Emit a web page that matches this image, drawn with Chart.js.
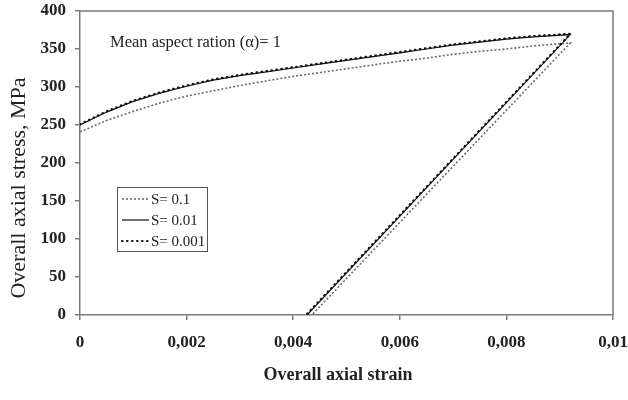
<!DOCTYPE html>
<html><head><meta charset="utf-8">
<script src="https://cdn.jsdelivr.net/npm/chart.js@4/dist/chart.umd.min.js"></script>
<style>html,body{margin:0;padding:0;background:#fff}#wrap{width:628px;height:400px;position:relative}</style>
</head><body><div id="wrap"><canvas id="c" width="628" height="400"></canvas></div>
<script>
// ---- data ----
const seriesNames = ['S= 0.1', 'S= 0.01', 'S= 0.001'];
const strainLoad = [0, 0.0005, 0.001, 0.0015, 0.002, 0.0025, 0.003, 0.0035, 0.004, 0.0045, 0.005, 0.0055, 0.006, 0.0065, 0.007, 0.0075, 0.008, 0.0085, 0.0092];
const stressS01   = [241, 256, 268, 279, 288, 295, 302, 308, 314, 319, 324, 329, 334, 338, 343, 347, 350, 354, 358];
const stressS001  = [250, 267, 281, 292, 301, 309, 315, 320, 325, 330, 335, 340, 345, 350, 355, 359, 363, 366, 369];
const stressS0001 = [251, 268, 282, 293, 302, 310, 316, 321, 326, 331, 336, 341, 346, 351, 356, 360, 364, 367, 370];
const unloadEndStrain = [0.00435, 0.00426, 0.00424];   // strain at zero stress after unloading
const xTickLabels = ['0', '0,002', '0,004', '0,006', '0,008', '0,01'];
const yTickLabels = ['0', '50', '100', '150', '200', '250', '300', '350', '400'];
const xTitle = 'Overall axial strain';
const yTitle = 'Overall axial stress, MPa';
const noteText = 'Mean aspect ration (\u03b1)= 1';

function buildSeries(stress, endStrain) {
  const pts = strainLoad.map((x, i) => ({x: x, y: stress[i]}));
  pts.push({x: endStrain, y: 0});
  return pts;
}

const SERIF = '"Liberation Serif", "DejaVu Serif", serif';
const AXIS = '#7a7a7a';

const decorPlugin = {
  id: 'decor',
  afterDraw(chart) {
    const ctx = chart.ctx, a = chart.chartArea;
    ctx.save();
    // frame top & right
    ctx.strokeStyle = AXIS; ctx.lineWidth = 1.5;
    ctx.beginPath();
    ctx.moveTo(a.left, a.top); ctx.lineTo(a.right, a.top); ctx.lineTo(a.right, a.bottom);
    ctx.stroke();
    // note
    ctx.fillStyle = '#222';
    ctx.font = '16.5px ' + SERIF;
    ctx.textAlign = 'left'; ctx.textBaseline = 'alphabetic';
    ctx.fillText(noteText, 110, 47);
    // x title
    ctx.font = 'bold 18px ' + SERIF;
    ctx.textAlign = 'center'; ctx.textBaseline = 'middle';
    ctx.fillText(xTitle, 338, 375);
    // y title
    ctx.save();
    ctx.translate(19, 188);
    ctx.rotate(-Math.PI / 2);
    ctx.font = '22px ' + SERIF;
    ctx.fillText(yTitle, 0, 0);
    ctx.restore();
    // legend box
    const bx = 117, by = 187, bw = 90, bh = 64;
    ctx.fillStyle = '#fff';
    ctx.fillRect(bx, by, bw, bh);
    ctx.strokeStyle = '#555'; ctx.lineWidth = 1;
    ctx.strokeRect(bx + 0.5, by + 0.5, bw, bh);
    chart.data.datasets.forEach((ds, i) => {
      const y = by + 12 + i * 21;
      ctx.save();
      ctx.strokeStyle = ds.borderColor; ctx.lineWidth = ds.borderWidth;
      ctx.lineCap = ds.borderCapStyle || 'butt';
      ctx.setLineDash(ds.borderDash || []);
      ctx.beginPath(); ctx.moveTo(122, y); ctx.lineTo(149, y); ctx.stroke();
      ctx.restore();
      ctx.fillStyle = '#222';
      ctx.font = '15px ' + SERIF;
      ctx.textAlign = 'left'; ctx.textBaseline = 'middle';
      ctx.fillText(ds.label, 151, y + 1);
    });
    ctx.restore();
  }
};

function zeroPad(scale) { scale.paddingLeft = 0; scale.paddingRight = 0; scale.paddingTop = 0; scale.paddingBottom = 0; }

new Chart(document.getElementById('c'), {
  type: 'scatter',
  data: {
    datasets: [
      {label: seriesNames[0], data: buildSeries(stressS01, unloadEndStrain[0]), showLine: true, pointRadius: 0,
       borderColor: '#6a6a6a', borderWidth: 1.6, borderDash: [2, 2], tension: 0},
      {label: seriesNames[1], data: buildSeries(stressS001, unloadEndStrain[1]), showLine: true, pointRadius: 0,
       borderColor: '#111', borderWidth: 1.2, tension: 0},
      {label: seriesNames[2], data: buildSeries(stressS0001, unloadEndStrain[2]), showLine: true, pointRadius: 0,
       borderColor: '#111', borderWidth: 2.2, borderDash: [0.5, 4.5], borderCapStyle: 'round', tension: 0}
    ]
  },
  options: {
    responsive: false, animation: false, devicePixelRatio: 1,
    layout: {padding: {left: 0, right: 15, top: 11, bottom: 0}},
    plugins: {legend: {display: false}, tooltip: {enabled: false}},
    scales: {
      x: {
        type: 'linear', min: 0, max: 0.01,
        afterFit(s) { s.height = 85; zeroPad(s); },
        grid: {drawOnChartArea: false, drawTicks: true, tickLength: 5, color: AXIS, lineWidth: 1.5},
        border: {display: true, color: AXIS, width: 1.5},
        ticks: {stepSize: 0.002, padding: 12, color: '#222', maxRotation: 0,
          font: {family: SERIF, size: 17, weight: 'bold'},
          callback: (v, i) => xTickLabels[i]}
      },
      y: {
        type: 'linear', min: 0, max: 400,
        afterFit(s) { s.width = 80; zeroPad(s); },
        grid: {drawOnChartArea: false, drawTicks: true, tickLength: 5, color: AXIS, lineWidth: 1.5},
        border: {display: true, color: AXIS, width: 1.5},
        ticks: {stepSize: 50, padding: 9, color: '#222',
          font: {family: SERIF, size: 17, weight: 'bold'},
          callback: (v, i) => yTickLabels[i]}
      }
    }
  },
  plugins: [decorPlugin]
});
</script></body></html>
